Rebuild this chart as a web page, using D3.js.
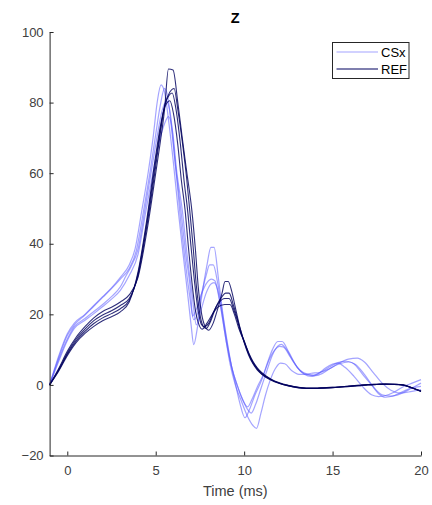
<!DOCTYPE html>
<html>
<head>
<meta charset="utf-8">
<script src="https://cdn.jsdelivr.net/npm/d3@7"></script>
<style>
  html, body { margin: 0; padding: 0; background: #fff; }
  svg { display: block; font-family: "Liberation Sans", Arial, sans-serif; }
</style>
</head>
<body>
<svg id="chart" width="432" height="505"></svg>
<script>
// Axis ticks
const xTicks = [0, 5, 10, 15, 20];
const yTicks = [-20, 0, 20, 40, 60, 80, 100];

// CSx traces: [time (ms), amplitude]
const csx1 = [[-1,0],[-0.5,8],[0,14.5],[0.4,17.5],[1,20],[1.5,22.5],[2,25],[2.5,27.5],[3,30.5],[3.5,34],[3.83,38.5],[4.2,49],[4.58,60.4],[4.85,70],[5.09,80.3],[5.3,85],[5.5,83],[5.75,74],[6.0,63],[6.27,49.6],[6.55,37],[6.8,26],[7.0,17],[7.15,11.4],[7.35,16],[7.6,25],[7.9,34],[8.12,39],[8.3,39],[8.55,30],[8.8,20],[9.05,12],[9.3,5],[9.5,0.5],[9.75,-5],[10.05,-9.3],[10.3,-7],[10.6,-3],[11.0,1.5],[11.3,6],[11.6,10],[11.9,12.3],[12.15,12.3],[12.5,9.5],[13,5],[13.4,3],[13.8,2.4],[14.2,3.2],[14.6,4.8],[15.0,5.9],[15.3,6.2],[15.7,5],[16.2,2.5],[16.7,-0.5],[17.2,-2.8],[17.6,-3.3],[18,-3],[18.5,-2],[19,-0.5],[19.5,0.5],[20,1.5]];
const csx2 = [[-1,0],[-0.5,7.5],[0,14],[0.4,17],[1,19.8],[1.5,22.3],[2,24.8],[2.5,27.3],[3,30],[3.5,33],[3.9,38],[4.3,49],[4.7,61],[5.0,71],[5.25,79],[5.5,84],[5.7,81],[5.95,70],[6.2,58],[6.35,49.6],[6.6,38],[6.9,26],[7.15,18.5],[7.35,20],[7.6,26],[7.85,31],[8.05,34],[8.25,34],[8.5,29],[8.75,21],[9.0,13],[9.3,5],[9.6,0],[9.9,-4],[10.2,-6.2],[10.45,-4],[10.75,-0.5],[11.1,3],[11.4,7],[11.75,10],[12.0,10.9],[12.2,10.8],[12.6,8],[13,5],[13.5,3],[13.9,2.8],[14.3,3.5],[14.8,5],[15.3,6.3],[15.8,6.7],[16.2,6],[16.7,3],[17.2,0],[17.6,-2.5],[18,-3.5],[18.5,-3],[19,-1.8],[19.5,-0.8],[20,-0.4]];
const csx3 = [[-1,0],[-0.5,7],[0,13],[0.4,16.5],[1,18.8],[1.5,20.8],[2,22.8],[2.5,25],[3,27.8],[3.3,30.7],[3.6,33.5],[4.0,38.5],[4.4,50],[4.8,62],[5.1,71],[5.35,77.5],[5.6,80.5],[5.85,76],[6.1,63],[6.42,49.6],[6.7,37],[6.98,26],[7.08,19.5],[7.3,21.5],[7.6,26],[7.9,29],[8.15,30],[8.35,29.5],[8.6,24],[8.9,15],[9.2,6],[9.5,0],[9.8,-4],[10.2,-9],[10.5,-11.5],[10.7,-12.3],[10.95,-8],[11.2,-3],[11.45,1],[11.75,4.5],[12.05,6.2],[12.3,6],[12.7,4],[13.1,3],[13.4,3],[13.8,3.3],[14.3,3.6],[14.8,4.5],[15.3,6],[15.9,7.3],[16.4,7.6],[16.8,6.5],[17.3,3.5],[17.8,0.5],[18.3,-1.5],[18.8,-2.3],[19.3,-2],[19.7,-1.6],[20,-1.3]];
const csx4 = [[-1,0],[-0.5,6.5],[0,12.5],[0.4,16],[1,18.3],[1.5,20.2],[2,22.2],[2.5,24.3],[3,26.8],[3.5,31],[4.0,37],[4.4,48],[4.8,59],[5.2,69],[5.5,74],[5.72,76],[5.95,72],[6.2,60],[6.5,49.6],[6.75,38],[7.05,26],[7.3,17],[7.55,21],[7.85,26],[8.1,28.5],[8.3,29],[8.5,27],[8.75,20],[9.0,12],[9.3,5],[9.6,0],[9.9,-4],[10.2,-7],[10.4,-8],[10.65,-5.5],[10.95,-1],[11.25,3.5],[11.6,8.5],[11.9,11],[12.1,11.5],[12.4,10],[12.8,6.5],[13.2,4],[13.6,3],[14.0,2.6],[14.4,3.2],[14.9,4.8],[15.4,6],[15.9,6.5],[16.3,5.8],[16.8,3],[17.3,-0.5],[17.8,-2.8],[18.3,-3.2],[18.8,-2.6],[19.3,-1.4],[19.7,-0.3],[20,0.5]];

// REF traces: [time (ms), amplitude]
const ref1 = [[-1,0],[-0.5,4.5],[0,9.5],[0.5,13.5],[1,16.5],[1.5,19],[2,20.8],[2.5,22],[3,23.5],[3.5,25.5],[4,30.5],[4.5,43.5],[5,60],[5.25,68.5],[5.5,78],[5.72,89.5],[5.98,89.2],[6.25,80],[6.5,70],[6.75,60.5],[7.04,49.6],[7.25,38],[7.4,28],[7.6,20],[7.8,16.5],[8.0,15.5],[8.25,17.5],[8.5,21.5],[8.75,26],[8.92,29.3],[9.1,29.3],[9.3,26.5],[9.5,22],[9.75,16.5],[10,12],[10.25,8.5],[10.5,6],[10.75,4.2],[11,3],[11.5,1.4],[12,0.4],[12.5,-0.3],[13,-0.8],[13.5,-1.0],[14,-1.0],[14.5,-0.9],[15,-0.8],[15.5,-0.6],[16,-0.4],[16.5,-0.2],[17,0],[17.5,0.1],[18,0.2],[18.5,0.2],[19,0],[19.5,-0.8],[20,-1.8]];
const ref2 = [[-1,0],[-0.5,4.2],[0,9],[0.5,13],[1,15.8],[1.5,18.2],[2,19.8],[2.5,21],[3,22.5],[3.5,24.5],[4,31],[4.5,45],[5,62],[5.25,71],[5.5,79],[5.8,83],[6.04,84],[6.25,78],[6.5,69],[6.75,58.5],[6.92,49.6],[7.1,40],[7.3,28],[7.5,20],[7.7,16.5],[7.85,16],[8.1,18],[8.4,22],[8.75,25],[8.95,26],[9.15,26],[9.4,22.5],[9.6,19],[9.8,15.5],[10,12.3],[10.25,8.8],[10.5,6.2],[10.75,4.4],[11,3.1],[11.5,1.5],[12,0.5],[12.5,-0.2],[13,-0.7],[13.5,-0.9],[14,-0.9],[14.5,-0.8],[15,-0.7],[15.5,-0.5],[16,-0.3],[16.5,-0.1],[17,0.1],[17.5,0.2],[18,0.3],[18.5,0.2],[19,0],[19.5,-0.9],[20,-1.9]];
const ref3 = [[-1,0],[-0.5,4],[0,8.7],[0.5,12.5],[1,15.2],[1.5,17.4],[2,19],[2.5,20.2],[3,21.6],[3.5,24],[4,31.5],[4.5,46],[5,63.5],[5.25,72],[5.5,79],[5.75,82],[5.93,82.7],[6.15,78],[6.4,68],[6.6,58],[6.8,49.6],[7.0,39],[7.2,29],[7.4,21],[7.6,17],[7.75,16.5],[8.0,17.5],[8.3,21],[8.6,23.5],[8.9,24.5],[9.15,24.5],[9.4,21.5],[9.6,18.5],[9.8,15],[10,12.5],[10.25,9],[10.5,6.4],[10.75,4.6],[11,3.3],[11.5,1.6],[12,0.5],[12.5,-0.2],[13,-0.7],[13.5,-1.0],[14,-1.0],[14.5,-0.9],[15,-0.8],[15.5,-0.6],[16,-0.4],[16.5,-0.2],[17,0],[17.5,0.1],[18,0.2],[18.5,0.1],[19,-0.1],[19.5,-0.9],[20,-1.7]];
const ref4 = [[-1,0],[-0.5,3.8],[0,8.3],[0.5,12],[1,14.6],[1.5,16.6],[2,18.2],[2.5,19.3],[3,20.7],[3.5,23.5],[4,32],[4.5,47],[5,65],[5.25,73],[5.5,78.5],[5.8,80.5],[6.0,77],[6.25,68],[6.45,58],[6.66,49.6],[6.85,39],[7.05,29],[7.25,21],[7.45,17],[7.62,15.8],[7.9,17.5],[8.2,20],[8.5,22],[8.9,22.8],[9.2,22.8],[9.45,20],[9.7,16],[9.9,13.5],[10.1,11],[10.3,8.6],[10.5,6.6],[10.75,4.8],[11,3.5],[11.5,1.7],[12,0.6],[12.5,-0.1],[13,-0.6],[13.5,-0.9],[14,-0.9],[14.5,-0.8],[15,-0.7],[15.5,-0.5],[16,-0.3],[16.5,-0.1],[17,0.1],[17.5,0.2],[18,0.2],[18.5,0.2],[19,-0.1],[19.5,-0.8],[20,-1.8]];

const csxSeries = [csx1, csx2, csx3, csx4];
const refSeries = [ref1, ref2, ref3, ref4];

const svg = d3.select("#chart");
const plotLeft = 49.6, plotRight = 421, plotTop = 32, plotBottom = 455.5;
const axisColor = "#262626";

const x = d3.scaleLinear().domain([-1, 20]).range([plotLeft, plotRight]);
const y = d3.scaleLinear().domain([-20, 100]).range([plotBottom, plotTop]);

const line = d3.line()
  .x(d => x(d[0]))
  .y(d => y(d[1]))
  .curve(d3.curveMonotoneX);

// Traces
const csxColor = "#5a5aff";
const refColor = "#00005e";

svg.append("g").selectAll("path").data(csxSeries).join("path")
  .attr("d", line)
  .attr("fill", "none")
  .attr("stroke", csxColor)
  .attr("stroke-opacity", 0.55)
  .attr("stroke-width", 1.2)
  .attr("stroke-linejoin", "round");

svg.append("g").selectAll("path").data(refSeries).join("path")
  .attr("d", line)
  .attr("fill", "none")
  .attr("stroke", refColor)
  .attr("stroke-opacity", 0.82)
  .attr("stroke-width", 1.1)
  .attr("stroke-linejoin", "round");

// Axes (ticks point inward)
const gx = svg.append("g")
  .attr("transform", `translate(0,${plotBottom})`)
  .call(d3.axisBottom(x).tickValues(xTicks).tickSizeInner(-4).tickSizeOuter(0).tickPadding(10));
const gy = svg.append("g")
  .attr("transform", `translate(${plotLeft},0)`)
  .call(d3.axisLeft(y).tickValues(yTicks).tickSizeInner(-4).tickSizeOuter(0).tickPadding(6));

[gx, gy].forEach(g => {
  g.select(".domain").attr("stroke", axisColor).attr("stroke-width", 1);
  g.selectAll(".tick line").attr("stroke", axisColor);
  g.selectAll(".tick text")
    .attr("fill", "#404040")
    .style("font-size", "13px")
    .style("font-family", "'Liberation Sans', Arial, sans-serif");
});

// Title and axis label
svg.append("text")
  .attr("x", (plotLeft + plotRight) / 2).attr("y", 23)
  .attr("text-anchor", "middle")
  .attr("fill", "#000")
  .style("font-size", "14.5px").style("font-weight", "bold")
  .text("Z");

svg.append("text")
  .attr("x", (plotLeft + plotRight) / 2).attr("y", 496)
  .attr("text-anchor", "middle")
  .attr("fill", "#404040")
  .style("font-size", "14.5px")
  .text("Time (ms)");

// Legend
const legend = svg.append("g").attr("transform", "translate(332.5,42.5)");
legend.append("rect")
  .attr("width", 76.5).attr("height", 36)
  .attr("fill", "#fff")
  .attr("stroke", axisColor).attr("stroke-width", 1);

const legendItems = [
  { label: "CSx", color: csxColor, opacity: 0.55 },
  { label: "REF", color: refColor, opacity: 1 }
];
legendItems.forEach((d, i) => {
  const ly = 9.5 + i * 17;
  legend.append("line")
    .attr("x1", 4).attr("x2", 45.5)
    .attr("y1", ly).attr("y2", ly)
    .attr("stroke", d.color).attr("stroke-opacity", d.opacity).attr("stroke-width", 1.2);
  legend.append("text")
    .attr("x", 48.5).attr("y", ly + 4.6)
    .attr("fill", "#000")
    .style("font-size", "13px")
    .text(d.label);
});
</script>
</body>
</html>
